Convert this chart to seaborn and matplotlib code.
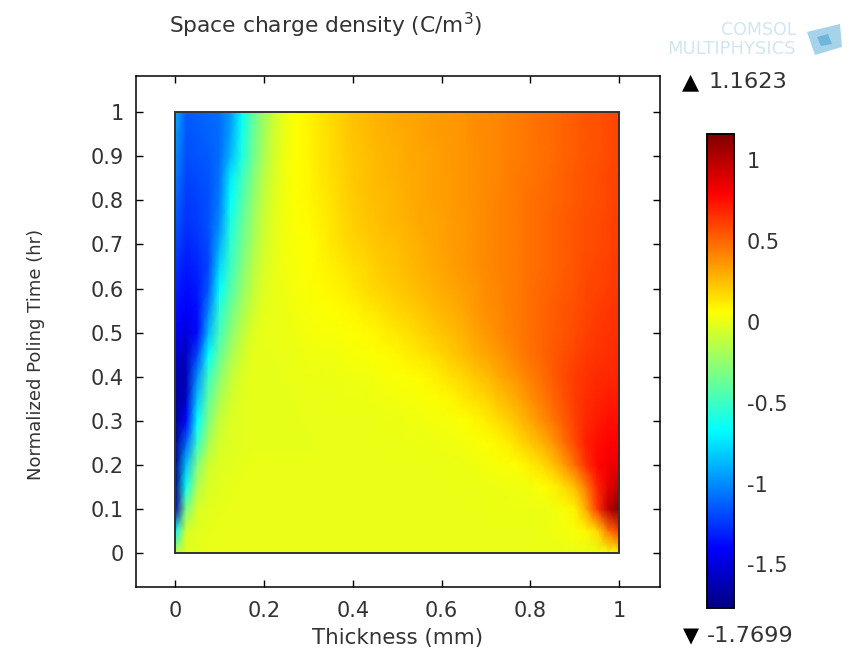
import matplotlib
matplotlib.use("Agg")
import matplotlib.pyplot as plt
from matplotlib.colors import LinearSegmentedColormap
from matplotlib.patches import Polygon
import numpy as np
import seaborn as sns

# grid runs x = 0..1 in steps of 0.025, y = 0..1 in steps of 0.05 (bottom row first)
x_step = 0.025
y_step = 0.05
density = [
    [-.15,-.02,-.01,0,0,0,0,0,0,0,0,0,0, 0,0,0,0,0,0,0,0,0,0,0,0,0,0,0,0,0,0,0,0,0,0,0,0,0,.01,.03,.08],
    [-.70,-.06,-.02,-.01,0,0,0,0,0,0,0,0,0, 0,0,0,0,0,0,0,0,0,0,0,0,0,0,0,0,0,0,0,0,.01,.02,.03,.05,.08,.17,.45,.62],
    [-1.65,-.32,-.05,-.02,-.01,0,0,0,0,0,0,0,0, 0,0,0,0,0,0,0,0,0,0,0,0,0,0,0,0,.01,.01,.01,.01,.01,.02,.04,.10,.30,.62,.98,1.16],
    [-1.77,-.62,-.16,-.05,-.02,-.01,0,0,0,0,0,0,0, 0,0,0,0,0,0,0,0,0,0,0,0,0,0,0,.01,.01,.02,.02,.03,.06,.09,.16,.25,.44,.68,.86,.98],
    [-1.77,-.85,-.30,-.08,-.03,-.02,-.01,0,0,0,0,0,0, 0,0,0,0,0,0,0,0,0,0,0,0,.01,.01,.02,.03,.04,.05,.07,.11,.16,.23,.34,.48,.65,.77,.82,.86],
    [-1.75,-1.12,-.52,-.20,-.06,-.03,-.02,-.01,-.01,-.01,-.01,-.01,-.01, 0,0,0,0,0,0,0,0,.01,.01,.01,.02,.02,.03,.04,.06,.08,.11,.17,.22,.28,.36,.47,.58,.70,.75,.79,.80],
    [-1.73,-1.38,-.67,-.30,-.10,-.04,-.02,-.01,-.01,-.01,-.01,-.01,0, 0,0,0,0,0,0,.01,.01,.02,.02,.03,.03,.04,.06,.08,.11,.15,.20,.25,.31,.38,.45,.53,.61,.68,.72,.75,.76],
    [-1.70,-1.55,-.84,-.40,-.18,-.07,-.02,-.01,-.01,-.01,-.01,0,0, 0,0,.01,.01,.01,.02,.02,.03,.03,.04,.05,.07,.09,.12,.15,.18,.23,.27,.32,.38,.44,.50,.56,.62,.66,.69,.71,.72],
    [-1.65,-1.60,-1.00,-.50,-.27,-.12,-.04,-.01,-.01,-.01,0,0,.01, .01,.01,.02,.02,.02,.03,.04,.05,.06,.07,.09,.12,.15,.18,.22,.25,.30,.34,.38,.43,.48,.53,.58,.62,.65,.67,.68,.69],
    [-1.55,-1.57,-1.20,-.67,-.38,-.20,-.08,-.01,-.01,0,0,.01,.02, .02,.02,.03,.04,.05,.06,.07,.08,.11,.13,.15,.18,.22,.25,.29,.32,.35,.39,.43,.47,.50,.54,.57,.60,.63,.65,.66,.67],
    [-1.44,-1.50,-1.38,-.88,-.48,-.28,-.13,-.03,0,0,.01,.02,.03, .04,.04,.05,.06,.07,.08,.11,.13,.15,.18,.21,.23,.26,.29,.33,.36,.39,.42,.45,.48,.50,.53,.55,.58,.61,.63,.65,.66],
    [-1.36,-1.42,-1.36,-1.02,-.55,-.36,-.20,-.08,-.01,0,.01,.03,.04, .05,.06,.07,.08,.11,.13,.16,.18,.20,.22,.25,.27,.29,.32,.35,.38,.40,.43,.45,.48,.50,.53,.55,.57,.60,.62,.64,.65],
    [-1.31,-1.38,-1.33,-1.15,-.67,-.44,-.26,-.12,-.03,0,.02,.04,.05, .07,.08,.10,.13,.16,.18,.20,.22,.24,.26,.28,.30,.32,.34,.36,.39,.41,.43,.45,.48,.50,.52,.54,.56,.59,.60,.62,.64],
    [-1.25,-1.34,-1.30,-1.20,-.78,-.50,-.31,-.15,-.05,0,.03,.04,.06, .08,.10,.12,.15,.17,.20,.22,.24,.26,.28,.30,.32,.34,.36,.38,.40,.42,.43,.45,.47,.49,.51,.53,.55,.58,.60,.61,.63],
    [-1.20,-1.30,-1.26,-1.19,-.90,-.55,-.36,-.19,-.07,-.01,.03,.05,.06, .09,.12,.15,.18,.20,.22,.24,.25,.27,.29,.31,.33,.35,.36,.38,.40,.42,.43,.45,.47,.49,.51,.53,.55,.57,.58,.60,.62],
    [-1.15,-1.26,-1.23,-1.17,-1.00,-.60,-.40,-.22,-.09,-.01,.03,.06,.07, .10,.13,.17,.20,.22,.24,.26,.27,.29,.31,.32,.33,.35,.36,.38,.40,.42,.43,.45,.47,.49,.51,.53,.55,.57,.58,.60,.62],
    [-1.10,-1.24,-1.21,-1.17,-1.04,-.66,-.45,-.26,-.11,-.02,.03,.06,.08, .11,.14,.18,.21,.23,.25,.26,.28,.30,.31,.33,.34,.35,.37,.38,.40,.42,.43,.45,.47,.49,.50,.52,.54,.56,.57,.59,.61],
    [-1.05,-1.21,-1.19,-1.16,-1.07,-.72,-.50,-.30,-.14,-.03,.03,.06,.08, .12,.15,.18,.22,.24,.26,.27,.29,.30,.32,.33,.34,.35,.37,.38,.40,.41,.43,.45,.46,.48,.50,.52,.54,.56,.57,.59,.61],
    [-1.00,-1.18,-1.16,-1.14,-1.09,-.87,-.60,-.36,-.18,-.05,.03,.06,.09, .13,.16,.19,.22,.24,.26,.28,.29,.31,.32,.33,.34,.36,.37,.38,.40,.41,.43,.44,.46,.47,.49,.51,.53,.55,.56,.58,.60],
    [-.95,-1.16,-1.14,-1.12,-1.09,-.93,-.63,-.38,-.20,-.06,.02,.06,.09, .13,.16,.20,.23,.25,.27,.29,.30,.31,.33,.34,.35,.36,.37,.39,.40,.41,.43,.44,.46,.48,.49,.51,.53,.55,.56,.58,.60],
    [-.90,-1.14,-1.12,-1.11,-1.08,-.96,-.67,-.40,-.22,-.07,.02,.06,.09, .13,.17,.20,.24,.25,.27,.29,.31,.32,.33,.34,.35,.36,.37,.39,.40,.41,.43,.44,.46,.48,.49,.51,.53,.55,.56,.58,.60],
]

x_ticks = [0, 0.2, 0.4, 0.6, 0.8, 1]
y_ticks = [0, 0.1, 0.2, 0.3, 0.4, 0.5, 0.6, 0.7, 0.8, 0.9, 1]
x_labels = ["0", "0.2", "0.4", "0.6", "0.8", "1"]
y_labels = ["0", "0.1", "0.2", "0.3", "0.4", "0.5", "0.6", "0.7", "0.8", "0.9", "1"]
cbar_ticks = [-1.5, -1, -0.5, 0, 0.5, 1]
cbar_labels = ["-1.5", "-1", "-0.5", "0", "0.5", "1"]
v_min = -1.7699
v_max = 1.1623

# classic jet, knots at the eighths
cmap_stops = [0, 0.125, 0.375, 0.625, 0.875, 1]
cmap_colors = ["#000080", "#0000ff", "#00ffff", "#ffff00", "#ff0000", "#800000"]
jet = LinearSegmentedColormap.from_list("classic_jet", list(zip(cmap_stops, cmap_colors)), N=512)

sns.set_theme(style="ticks", font="DejaVu Sans")
plt.rcParams["axes.unicode_minus"] = False
plt.rcParams["mathtext.default"] = "regular"

W, H = 850, 648
text_col = "#333333"
fig = plt.figure(figsize=(W / 100, H / 100), dpi=100)


def px_axes(x0, y0, x1, y1):
    return fig.add_axes([x0 / W, 1 - y1 / H, (x1 - x0) / W, (y1 - y0) / H])


ax = px_axes(136, 76, 660, 587)
cax = px_axes(707, 134, 734, 608)

sns.heatmap(np.array(density), cmap=jet, vmin=v_min, vmax=v_max, shading="gouraud",
            ax=ax, cbar=True, cbar_ax=cax, xticklabels=False, yticklabels=False)

# mesh coordinates are grid indices, so convert the axis range to them
ax.set_xlim(-0.088 / x_step, 1.092 / x_step)
ax.set_ylim(-0.077 / y_step, 1.082 / y_step)
ax.set_xticks([t / x_step for t in x_ticks], x_labels)
ax.set_yticks([t / y_step for t in y_ticks], y_labels)
ax.tick_params(direction="in", length=5, width=1, color="black", labelsize=15,
               labelcolor=text_col, top=True, right=True, bottom=True, left=True)
ax.tick_params(axis="x", pad=10)
ax.tick_params(axis="y", pad=9)
for side in ax.spines.values():
    side.set_visible(True)
    side.set_color("black")
    side.set_linewidth(1.1)
ax.set_xlabel("Thickness (mm)", fontsize=15.4, color=text_col)
ax.xaxis.set_label_coords(0.5, -0.08)
ax.set_ylabel("Normalized Poling Time (hr)", fontsize=13, color=text_col)
ax.yaxis.set_label_coords(-0.1737, 0.456)

# box round the solved region
x_end = 1 / x_step
y_end = 1 / y_step
ax.plot([0, x_end, x_end, 0, 0], [0, 0, y_end, y_end, 0], color="#333333", lw=1.4,
        clip_on=False, solid_joinstyle="miter")

cax.set_ylim(v_min, v_max)
cax.set_yticks(cbar_ticks, cbar_labels)
cax.tick_params(direction="in", length=3, width=1, color="black", labelsize=15,
                labelcolor=text_col, left=True, right=True, pad=9)
for side in cax.spines.values():
    side.set_visible(True)
    side.set_color("black")
    side.set_linewidth(1.1)

fig.text(169 / W, 1 - 25 / H, "Space charge density (C/m$^3$)", fontsize=15.7, color=text_col, va="center")
fig.text(682 / W, 1 - 82 / H, "▲", fontsize=16, color="black", va="center")
fig.text(709 / W, 1 - 82 / H, "1.1623", fontsize=16.2, color=text_col, va="center")
fig.text(683 / W, 1 - 636 / H, "▼", fontsize=15, color="black", va="center")
fig.text(707 / W, 1 - 636 / H, "-1.7699", fontsize=16.2, color=text_col, va="center")

# logo
logo = "#d2e6f2"
fig.text(796 / W, 1 - 30 / H, "COMSOL", fontsize=12.5, color=logo, ha="right", va="center")
fig.text(796 / W, 1 - 49 / H, "MULTIPHYSICS", fontsize=13, color=logo, ha="right", va="center")
cube = [(807 / W, 1 - 32 / H), (840 / W, 1 - 24 / H), (842 / W, 1 - 47 / H), (815 / W, 1 - 55 / H)]
fig.add_artist(Polygon(cube, closed=True, transform=fig.transFigure, fc="#a6d3ea", ec="none"))
fig.add_artist(Polygon([(817 / W, 1 - 37 / H), (828 / W, 1 - 34 / H), (832 / W, 1 - 44 / H), (821 / W, 1 - 46 / H)],
                       closed=True, transform=fig.transFigure, fc="#6fb6dc", ec="none"))

fig.savefig("out.png", dpi=100)
